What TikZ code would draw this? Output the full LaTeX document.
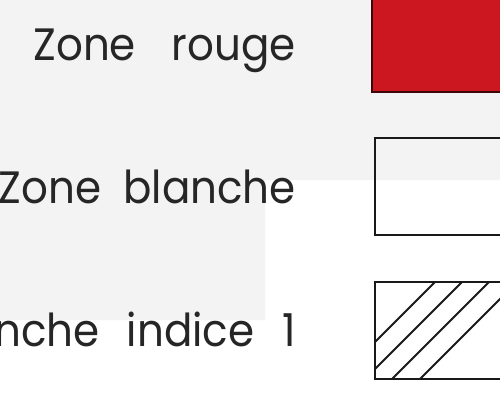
\documentclass[tikz,border=0pt]{standalone}
\usepackage{fontspec}
\setmainfont{Poppins}
\definecolor{zred}{RGB}{204,22,32}
\definecolor{scan}{RGB}{243,243,243}
\begin{document}
\begin{tikzpicture}[x=1pt,y=-1pt,
  lbl/.style={anchor=base east,inner sep=0pt,font=\fontsize{42}{46}\selectfont,text=black!85},
  box/.style={draw=black!90,line width=2.4pt},
  hatch/.style={draw=black!90,line width=2pt}]
\useasboundingbox (0,0) rectangle (500,397);
\begin{scope}
\clip (0,0) rectangle (500,397);
\fill[white] (0,0) rectangle (500,397);
\fill[scan] (0,0) -- (500,0) -- (500,180) -- (265,180) -- (265,320) -- (0,320) -- cycle;
% texts
\node[lbl] (t1) at (296,60) {\scalebox{1}[1.08]{Zone\hspace{36pt}rouge}};
\node[lbl] (t2) at (296,203) {\scalebox{1}[1.08]{Zone\hspace{22pt}blanche}};
\node[lbl] (t3) at (296,346) {\scalebox{1}[1.08]{nche\hspace{27pt}indice\hspace{28pt}1}};
% boxes
\filldraw[box,fill=zred,draw=black!70!zred] (372,-5) rectangle (510,92);
\draw[box] (375,138) rectangle (510,235);
\draw[box] (375,282) rectangle (510,379);
\begin{scope}
\clip (375,282) rectangle (510,379);
\draw[hatch] (375,342) -- (435,282);
\draw[hatch] (375,369) -- (462,282);
\draw[hatch] (392,379) -- (489,282);
\draw[hatch] (420,379) -- (517,282);
\end{scope}
\end{scope}
\end{tikzpicture}
\end{document}
